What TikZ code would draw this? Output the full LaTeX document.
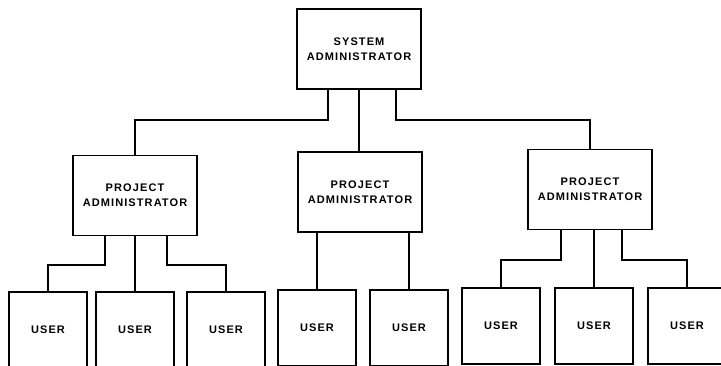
\documentclass[tikz,border=0pt]{standalone}
\usepackage{fontspec}
\newfontfamily\orgfont[LetterSpace=10]{Liberation Sans}
\usepackage{tikz}

\begin{document}
\begin{tikzpicture}[x=1pt,y=-1pt]
  \tikzstyle{every node}=[font=\orgfont\bfseries\fontsize{11}{15}\selectfont]
  \tikzstyle{admbox}=[draw, line width=1.8pt, align=center, minimum width=124pt, minimum height=80pt]
  \tikzstyle{userbox}=[draw, line width=1.8pt, minimum width=78pt, minimum height=76pt]
  \tikzstyle{link}=[line width=1.8pt]

  \useasboundingbox (0,0) rectangle (721,366);
  \clip (0,0) rectangle (721,366);

  \node[admbox](sysadm) at (359,49) {SYSTEM\\ADMINISTRATOR};

  \node[admbox](padmA) at (135,195.5) {PROJECT\\ADMINISTRATOR};
  \node[admbox](padmB) at (360,192) {PROJECT\\ADMINISTRATOR};
  \node[admbox](padmC) at (590,189.5) {PROJECT\\ADMINISTRATOR};

  \node[userbox](userA1) at (48,330) {USER};
  \node[userbox](userA2) at (135,330) {USER};
  \node[userbox](userA3) at (226,330) {USER};
  \node[userbox](userB1) at (317,328) {USER};
  \node[userbox](userB2) at (409,328) {USER};
  \node[userbox](userC1) at (501,326) {USER};
  \node[userbox](userC2) at (594,326) {USER};
  \node[userbox](userC3) at (687,326) {USER};

  \draw[link] ([xshift=-31]sysadm.south) -- ++(0,30) -| (padmA.north);
  \draw[link] (sysadm.south) -- (sysadm.south |- padmB.north);
  \draw[link] ([xshift=37]sysadm.south) -- ++(0,30) -| (padmC.north);

  \draw[link] ([xshift=-30]padmA.south) -- ++(0,29) -| (userA1.north);
  \draw[link] (userA2.north) -- (userA2.north |- padmA.south);
  \draw[link] ([xshift=32]padmA.south) -- ++(0,29) -| (userA3.north);

  \draw[link] (userB1.north) -- (userB1.north |- padmB.south);
  \draw[link] (userB2.north) -- (userB2.north |- padmB.south);

  \draw[link] ([xshift=-29]padmC.south) -- ++(0,30) -| (userC1.north);
  \draw[link] (userC2.north) -- (userC2.north |- padmC.south);
  \draw[link] ([xshift=32]padmC.south) -- ++(0,30) -| (userC3.north);
\end{tikzpicture}
\end{document}
